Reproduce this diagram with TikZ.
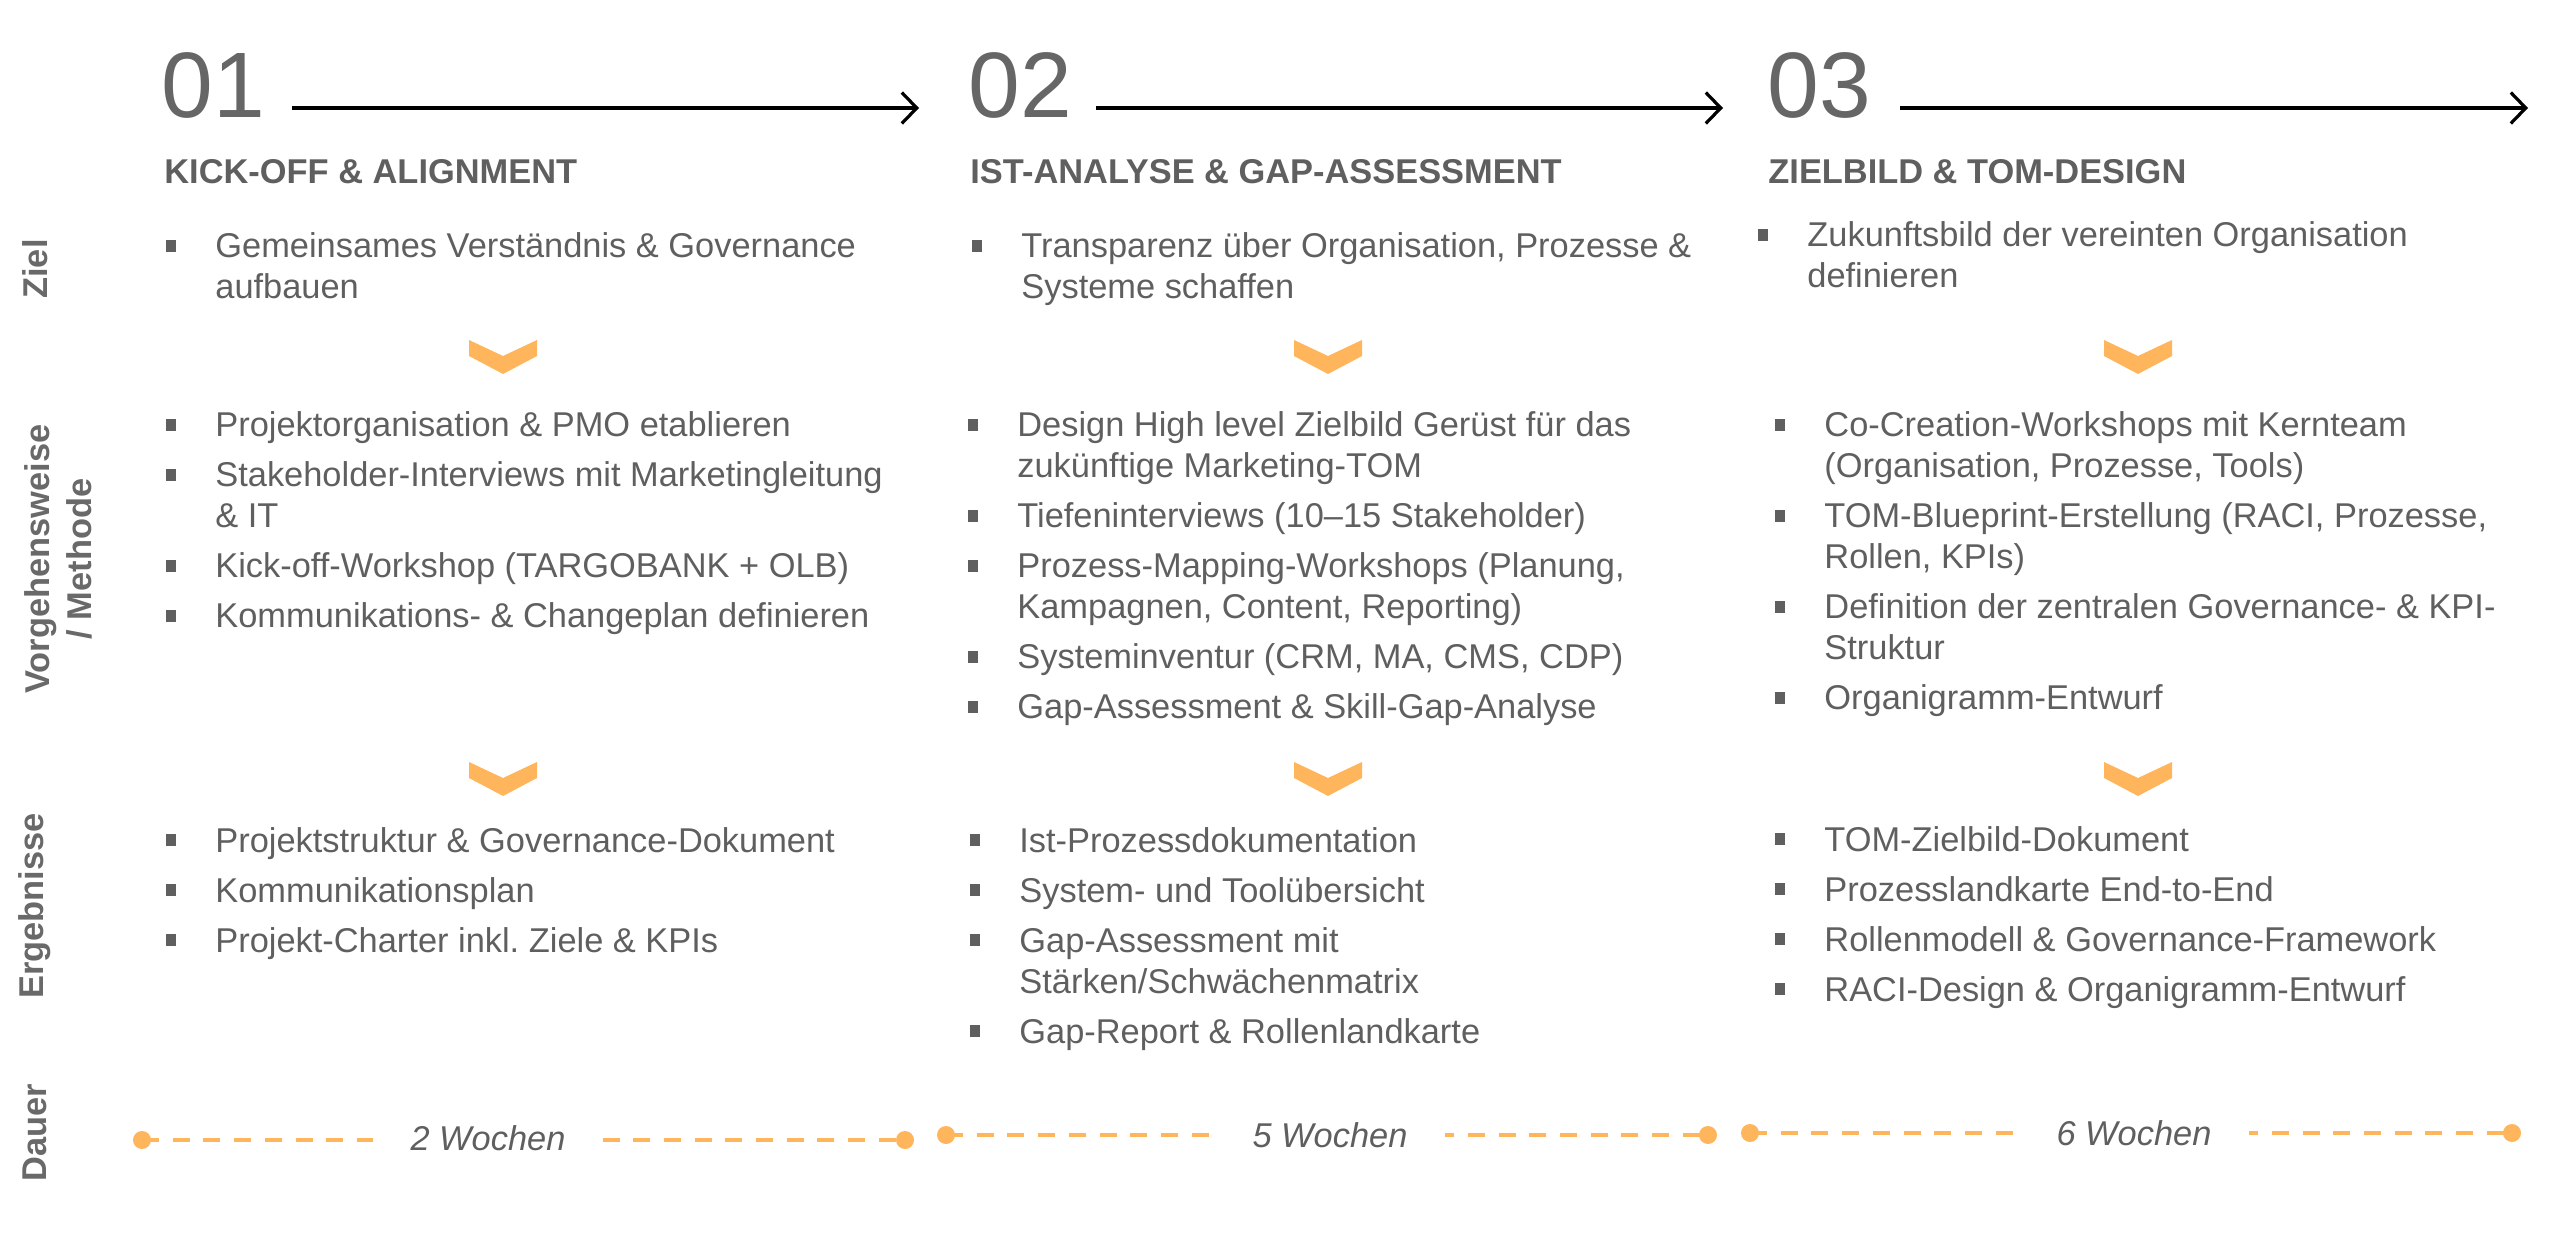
\documentclass[tikz,border=0pt]{standalone}
\usepackage{fontspec}
\setmainfont{Liberation Sans}
\usepackage{xcolor}
\usetikzlibrary{arrows.meta}
\frenchspacing

\definecolor{txtgray}{RGB}{95,95,95}
\definecolor{numgray}{RGB}{102,102,102}
\definecolor{lblgray}{RGB}{105,105,105}
\definecolor{phaseorange}{RGB}{255,181,92}

\newcommand{\cellbox}[1]{\vtop{\hsize=380pt\parindent=0pt\parskip=4.5pt\raggedright #1}}
\newcommand{\blt}[1]{\par\hangindent=24.5pt\hangafter=1\noindent\makebox[24.5pt][l]{\raisebox{3pt}{\rule{5pt}{5.8pt}}}#1\par}

\begin{document}
\begin{tikzpicture}[
    x=0.5pt, y=-0.5pt,
    num/.style={anchor=base west, inner sep=0, text=numgray, font=\fontsize{46.5}{50}\selectfont},
    head/.style={anchor=base west, inner sep=0, text=txtgray, font=\bfseries\fontsize{17.2}{20.5}\selectfont},
    cell/.style={anchor=base west, inner sep=0, text=txtgray, font=\fontsize{17.2}{20.5}\selectfont},
    lbl/.style={rotate=90, align=center, inner sep=0, text=lblgray, font=\bfseries\fontsize{17.2}{21}\selectfont},
    weeks/.style={anchor=base, fill=white, inner xsep=19pt, inner ysep=2pt, text=txtgray, font=\itshape\fontsize{17.2}{20.5}\selectfont},
    dot/.style={circle, fill=phaseorange, minimum size=9pt, inner sep=0},
    dur/.style={draw=phaseorange, line width=2.3pt, dash pattern=on 8.5pt off 6.85pt},
    chev/.style={fill=phaseorange},
    arrow/.style={line width=1.6pt, -{Straight Barb[length=7.5pt,width=15.5pt]}}
]
\useasboundingbox (0,0) rectangle (2560,1251);

% Row labels
\node (lziel) [lbl] at (35,269) {Ziel};
\node (lmeth) [lbl] at (58,559) {Vorgehensweise\\/ Methode};
\node (lerg) [lbl] at (35,906) {Ergebnisse};
\node (ldauer) [lbl] at (35,1133) {Dauer};

% Phase numbers and arrows
\node (num1) [num] at (161,118) {01};
\node (num2) [num] at (968,118) {02};
\node (num3) [num] at (1767,118) {03};
\coordinate (end1) at (919,108);
\coordinate (end2) at (1723,108);
\coordinate (end3) at (2528,108);
\draw [arrow] ([xshift=13.5pt,yshift=5pt]num1.base east) -- (end1);
\draw [arrow] ([xshift=12pt,yshift=5pt]num2.base east) -- (end2);
\draw [arrow] ([xshift=14.5pt,yshift=5pt]num3.base east) -- (end3);

% Phase titles
\node (head1) [head] at (164,184) {KICK-OFF \& ALIGNMENT};
\node (head2) [head] at (970,184) {IST-ANALYSE \& GAP-ASSESSMENT};
\node (head3) [head] at (1768,184) {ZIELBILD \& TOM-DESIGN};

% Ziel
\node (ziel1) [cell] at (166,258) {\cellbox{\blt{Gemeinsames Verständnis \& Governance\newline aufbauen}}};
\node (ziel2) [cell] at (972,258) {\cellbox{\blt{Transparenz über Organisation, Prozesse \&\newline Systeme schaffen}}};
\node (ziel3) [cell] at (1758,247) {\cellbox{\blt{Zukunftsbild der vereinten Organisation\newline definieren}}};

% Vorgehensweise / Methode
\node (meth1) [cell] at (166,437) {\cellbox{%
  \blt{Projektorganisation \& PMO etablieren}
  \blt{Stakeholder-Interviews mit Marketingleitung\newline \& IT}
  \blt{Kick-off-Workshop (TARGOBANK + OLB)}
  \blt{Kommunikations- \& Changeplan definieren}}};
\node (meth2) [cell] at (968,437) {\cellbox{%
  \blt{Design High level Zielbild Gerüst für das\newline zukünftige Marketing-TOM}
  \blt{Tiefeninterviews (10–15 Stakeholder)}
  \blt{Prozess-Mapping-Workshops (Planung,\newline Kampagnen, Content, Reporting)}
  \blt{Systeminventur (CRM, MA, CMS, CDP)}
  \blt{Gap-Assessment \& Skill-Gap-Analyse}}};
\node (meth3) [cell] at (1775,437) {\cellbox{%
  \blt{Co-Creation-Workshops mit Kernteam\newline (Organisation, Prozesse, Tools)}
  \blt{TOM-Blueprint-Erstellung (RACI, Prozesse,\newline Rollen, KPIs)}
  \blt{Definition der zentralen Governance- \& KPI-\newline Struktur}
  \blt{Organigramm-Entwurf}}};

% Ergebnisse
\node (erg1) [cell] at (166,852) {\cellbox{%
  \blt{Projektstruktur \& Governance-Dokument}
  \blt{Kommunikationsplan}
  \blt{Projekt-Charter inkl. Ziele \& KPIs}}};
\node (erg2) [cell] at (970,852) {\cellbox{%
  \blt{Ist-Prozessdokumentation}
  \blt{System- und Toolübersicht}
  \blt{Gap-Assessment mit\newline Stärken/Schwächenmatrix}
  \blt{Gap-Report \& Rollenlandkarte}}};
\node (erg3) [cell] at (1775,851) {\cellbox{%
  \blt{TOM-Zielbild-Dokument}
  \blt{Prozesslandkarte End-to-End}
  \blt{Rollenmodell \& Governance-Framework}
  \blt{RACI-Design \& Organigramm-Entwurf}}};

% Chevrons
\foreach \cx in {503,1328,2138}
  \foreach \cy in {340,762}
    \fill [chev, shift={(\cx,\cy)}] (-34,0) -- (0,16) -- (34,0) -- (34,16) -- (0,34) -- (-34,16) -- cycle;

% Dauer
\node (start1) [dot] at (142,1140) {};
\node (stop1) [dot] at (905,1140) {};
\node (start2) [dot] at (946,1135) {};
\node (stop2) [dot] at (1708,1135) {};
\node (start3) [dot] at (1750,1133) {};
\node (stop3) [dot] at (2512,1133) {};
\draw [dur] (start1.center) -- (stop1.center);
\draw [dur] (start2.center) -- (stop2.center);
\draw [dur] (start3.center) -- (stop3.center);
\node (weeks1) [weeks] at (488,1150) {2 Wochen};
\node (weeks2) [weeks] at (1330,1147) {5 Wochen};
\node (weeks3) [weeks] at (2134,1145) {6 Wochen};

\end{tikzpicture}
\end{document}
